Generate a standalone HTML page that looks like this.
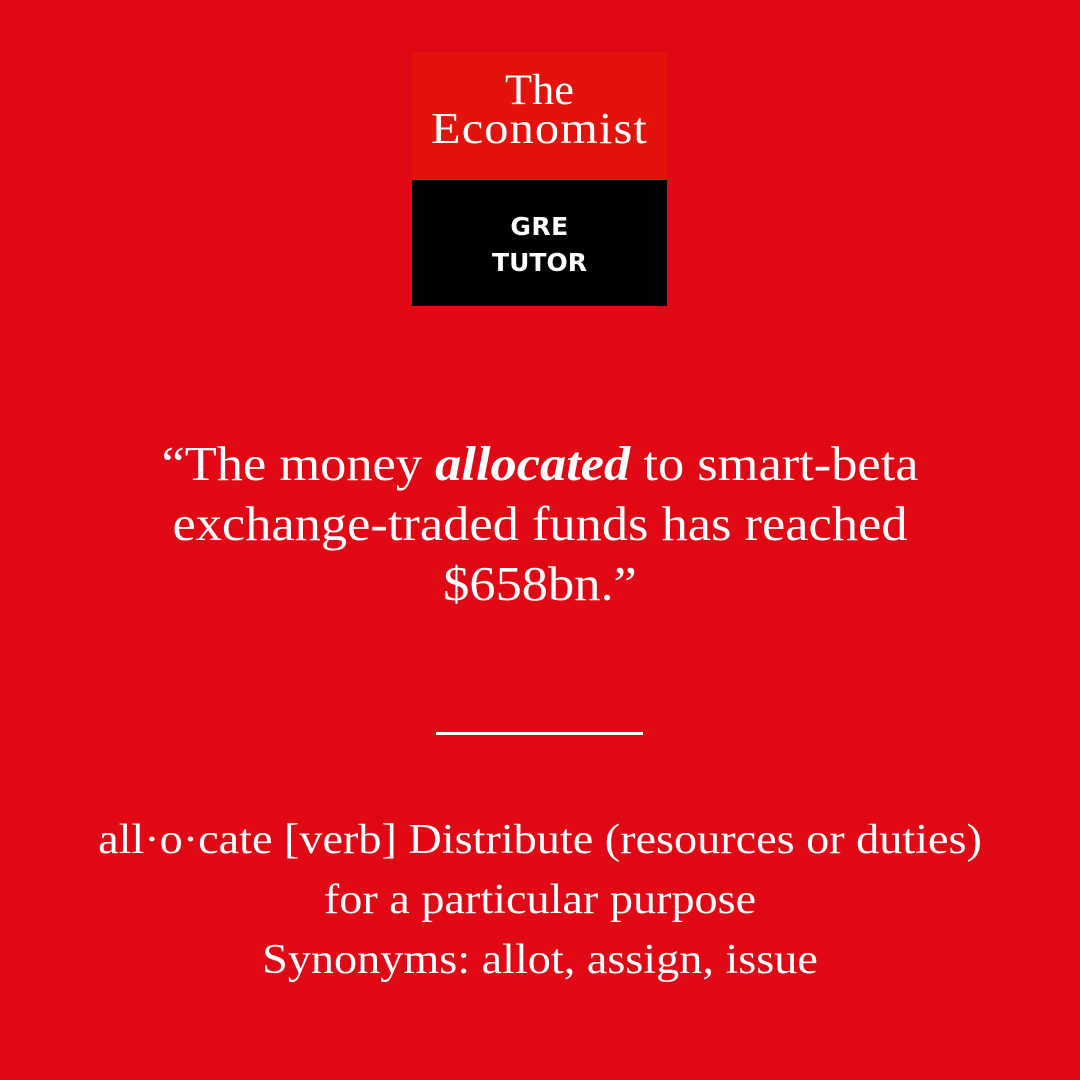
<!DOCTYPE html>
<html><head><meta charset="utf-8"><style>
html,body{margin:0;padding:0}
body{width:1080px;height:1080px;background:#E00814;position:relative;overflow:hidden;font-family:"Liberation Serif",serif;color:#fff}
.l{position:absolute;left:0;width:1080px;text-align:center;white-space:nowrap;line-height:1.107}
.q{font-size:49px;transform:scaleX(1.07)}
.d{font-size:42px;transform:scaleX(1.1)}
</style></head><body>
<div style="position:absolute;left:412px;top:52px;width:255px;height:254px">
  <div style="position:absolute;left:0;top:0;width:255px;height:128px;background:#E3120B"></div>
  <div style="position:absolute;left:0;top:128px;width:255px;height:126px;background:#000"></div>
  <div style="position:absolute;left:0;width:255px;text-align:center;top:15px;font-size:43px;line-height:1.107;transform:scaleX(1.03)">The</div>
  <div style="position:absolute;left:0;width:255px;text-align:center;top:53px;font-size:44px;line-height:1.107;letter-spacing:1px;transform:scaleX(1.1)">Economist</div>
  <div style="position:absolute;left:0;width:255px;text-align:center;top:160px;font-family:'DejaVu Sans',sans-serif;font-weight:bold;font-size:25px;line-height:1.2;letter-spacing:0.5px">GRE</div>
  <div style="position:absolute;left:0;width:255px;text-align:center;top:196px;font-family:'DejaVu Sans',sans-serif;font-weight:bold;font-size:25px;line-height:1.2;letter-spacing:0px">TUTOR</div>
</div>
<div class="l q" style="top:437px">“The money <b><i>allocated</i></b> to smart-beta</div>
<div class="l q" style="top:497px">exchange-traded funds has reached</div>
<div class="l q" style="top:557px">$658bn.”</div>
<div style="position:absolute;left:436px;top:732px;width:207px;height:3px;background:#fff"></div>
<div class="l d" style="top:817px">all·o·cate [verb] Distribute (resources or duties)</div>
<div class="l d" style="top:877px">for a particular purpose</div>
<div class="l d" style="top:937px">Synonyms: allot, assign, issue</div>
</body></html>
